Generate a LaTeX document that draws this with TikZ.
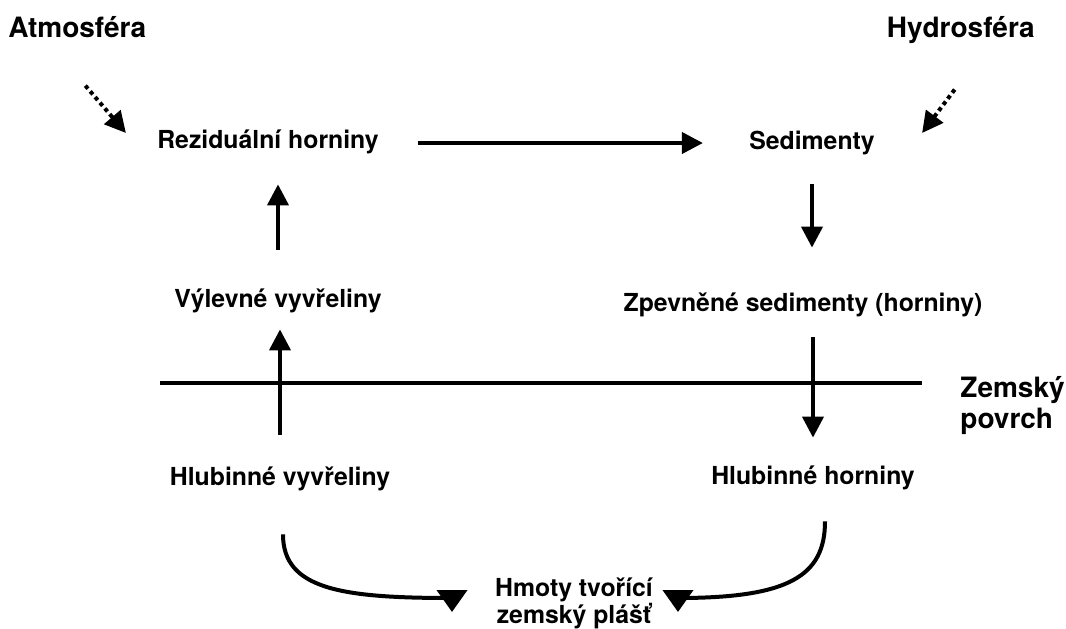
\documentclass[tikz,border=0pt]{standalone}
\usepackage{fontspec}
\setmainfont{TeX Gyre Heros}
\usetikzlibrary{arrows.meta}

\begin{document}
\begin{tikzpicture}[x=0.5pt,y=-0.5pt,
    every node/.style={font=\bfseries\fontsize{12.4}{13.5}\selectfont, inner sep=0pt},
    rock/.style={text height=0.75em, text depth=0.25em},
    sphere/.style={font=\bfseries\fontsize{14}{15.5}\selectfont},
    flow/.style={line width=2pt, -{Triangle[length=10.5pt,width=10.5pt]}},
    feed/.style={flow, dash pattern=on 2pt off 1.75pt},
    sink/.style={line width=2pt, -{Triangle[length=11pt,width=15pt]}}]
  \useasboundingbox (0,0) rectangle (1066,628);
  \node[sphere, anchor=base west] (atm) at (8,37) {Atmosféra};
  \node[sphere, anchor=base east] (hyd) at (1035,37) {Hydrosféra};
  \node[rock, anchor=base] (rez) at (268,148) {Reziduální horniny};
  \node[rock, anchor=base] (sed) at (812,149) {Sedimenty};
  \node[rock, anchor=base] (vyl) at (278,307) {Výlevné vyvřeliny};
  \node[rock, anchor=base] (zpev) at (803,311) {Zpevněné sedimenty (horniny)};
  \node[rock, anchor=base] (hv) at (280,485) {Hlubinné vyvřeliny};
  \node[rock, anchor=base] (hh) at (813,484) {Hlubinné horniny};
  \node[sphere, align=left, anchor=base west] (zem) at (960,428) {Zemský\\povrch};
  \node[align=center, anchor=base] (hm) at (574,623) {Hmoty tvořící\\zemský plášť};
  \coordinate (surf) at (160,383);
  \coordinate (hm-l) at (452,598);
  \coordinate (hm-r) at (678,598);

  \draw[line width=2pt, shorten >=19pt] (surf) -- (surf -| zem.west);
  \draw[feed] ([shift={(8,48)}]atm.south) -- ([shift={(-31,-10)}]rez.west);
  \draw[feed] ([shift={(-6,46)}]hyd.south) -- ([shift={(47,-11)}]sed.east);
  \draw[flow, shorten <=19.5pt, shorten >=23pt] (rez.east) -- (rez.east -| sed.west);
  \draw[flow, shorten <=15pt, shorten >=24pt] (sed.south) -- (sed.south |- zpev.north);
  \draw[flow, shorten <=10.5pt, shorten >=15.5pt] (hh.north |- zpev.south) -- (hh.north);
  \draw[flow, shorten <=17.5pt, shorten >=8.5pt] (hv.north) -- (hv.north |- vyl.south);
  \draw[flow, shorten <=21pt, shorten >=15.5pt] (vyl.north) -- (vyl.north |- rez.south);
  \draw[sink] ([shift={(3,44)}]hv.south) .. controls +(0,55) and +(-110,0) .. (hm-l) -- ++(0,14);
  \draw[sink] ([shift={(12,32)}]hh.south) .. controls +(0,55) and +(110,0) .. (hm-r) -- ++(0,14);
\end{tikzpicture}
\end{document}
